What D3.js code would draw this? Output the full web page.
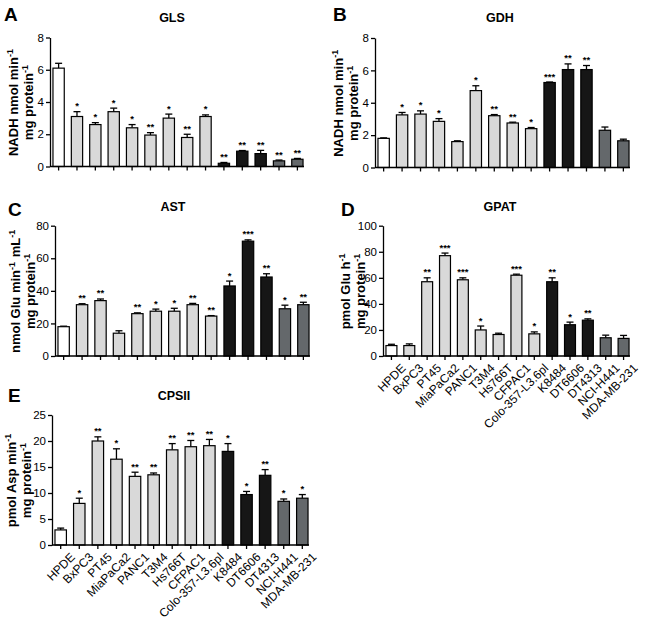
<!DOCTYPE html>
<html><head><meta charset="utf-8">
<script src="https://cdn.jsdelivr.net/npm/d3@7"></script>
<style>
body{margin:0;background:#fff;}
svg{display:block;font-family:"Liberation Sans",Arial,sans-serif;}
</style></head>
<body><svg id="chart" width="650" height="619"></svg>
<script>
const categories = ["HPDE","BxPC3","PT45","MiaPaCa2","PANC1","T3M4","Hs766T","CFPAC1","Colo-357-L3.6pl","K8484","DT6606","DT4313","NCI-H441","MDA-MB-231"];
const groups = ["normal","pdac","pdac","pdac","pdac","pdac","pdac","pdac","pdac","mouse","mouse","mouse","lung","lung"];

const glsValues = [6.1,3.1,2.6,3.4,2.4,1.95,3.0,1.8,3.1,0.2,0.95,0.8,0.35,0.45];
const glsErr    = [0.3,0.3,0.12,0.22,0.2,0.15,0.25,0.2,0.1,0.05,0.04,0.2,0.05,0.05];
const glsSig    = ["","*","*","*","*","**","*","**","*","**","**","**","**","**"];

const gdhValues = [1.8,3.25,3.3,2.85,1.6,4.75,3.2,2.75,2.4,5.25,6.05,6.05,2.3,1.65];
const gdhErr    = [0.03,0.15,0.2,0.17,0.05,0.3,0.07,0.05,0.07,0.03,0.35,0.25,0.2,0.1];
const gdhSig    = ["","*","*","*","","*","**","**","*","***","**","**","",""];

const astValues = [18,31.5,34,14,26,27.5,27.5,31.5,24.5,43,70.5,48.5,29,31.5];
const astErr    = [0.3,0.6,1.0,1.5,0.5,1.3,1.8,0.8,0.3,3.0,0.8,2.0,2.2,1.5];
const astSig    = ["","**","**","","**","*","*","**","**","*","***","**","*","**"];

const gpatValues = [8,8,57,77,58.5,20,16.5,62,17,57,24,27.5,14,13.5];
const gpatErr    = [1,1.3,3,2,1.5,3,1,0.8,1.5,3,2,1,2,2.3];
const gpatSig    = ["","","**","***","***","*","","***","*","**","*","**","",""];

const cpsValues = [2.9,8,20,16.5,13.2,13.5,18.3,18.9,19.1,18,9.7,13.4,8.4,9];
const cpsErr    = [0.35,1.0,0.8,2.0,0.8,0.35,1.2,1.2,1.2,1.5,0.6,1.1,0.45,0.7];
const cpsSig    = ["","*","**","*","**","**","**","**","**","*","*","**","*","*"];

const yTicksA = [0,2,4,6,8];
const yTicksC = [0,20,40,60,80];
const yTicksD = [0,20,40,60,80,100];
const yTicksE = [0,5,10,15,20,25];

const fills = {normal:"#ffffff", pdac:"#d9d9d9", mouse:"#161616", lung:"#64686b"};

const svg = d3.select("#chart");

function panel(cfg){
  const g = svg.append("g");
  const x = d3.scaleBand().domain(categories).range(cfg.xr).paddingInner(0.32).paddingOuter(0.02);
  const y = d3.scaleLinear().domain([0, cfg.ymax]).range(cfg.yr);
  const data = categories.map((c,i)=>({c, v:cfg.values[i], e:cfg.err[i], s:cfg.sig[i], grp:groups[i]}));

  g.append("text").attr("x", cfg.letter[0]).attr("y", cfg.letter[1])
    .attr("font-size", 19).attr("font-weight","bold").text(cfg.letterText);
  g.append("text").attr("x", cfg.title[0]).attr("y", cfg.title[1]).attr("text-anchor","middle")
    .attr("font-size", 12.5).attr("font-weight","bold").text(cfg.titleText);

  const bw = x.bandwidth();
  data.forEach(d=>{
    const cx = x(d.c)+bw/2;
    g.append("line").attr("x1",cx).attr("x2",cx).attr("y1",y(d.v)).attr("y2",y(d.v+d.e))
      .attr("stroke","#000").attr("stroke-width",1.3);
    g.append("line").attr("x1",cx-3.5).attr("x2",cx+3.5).attr("y1",y(d.v+d.e)).attr("y2",y(d.v+d.e))
      .attr("stroke","#000").attr("stroke-width",1.3);
  });
  g.selectAll("rect.bar").data(data).enter().append("rect")
    .attr("x", d=>x(d.c)+0.6).attr("width", bw-1.2)
    .attr("y", d=>y(d.v)).attr("height", d=>y(0)-y(d.v))
    .attr("fill", d=>fills[d.grp]).attr("stroke","#000").attr("stroke-width",1.2);
  g.selectAll("text.sig").data(data).enter().append("text")
    .attr("x", d=>x(d.c)+bw/2).attr("y", d=>y(d.v+d.e)-2.5)
    .attr("text-anchor","middle").attr("font-size",9.5).attr("font-weight","bold")
    .text(d=>d.s);

  const ya = g.append("g").attr("transform",`translate(${cfg.xr[0]-2},0)`)
    .call(d3.axisLeft(y).tickValues(cfg.yticks).tickSize(4).tickPadding(2).tickSizeOuter(0));
  ya.selectAll("text").attr("font-size",11.5).attr("font-family","Liberation Sans, Arial, sans-serif").attr("fill","#000");
  ya.selectAll("line,path").attr("stroke","#000").attr("stroke-width",1.3);

  const xa = g.append("g").attr("transform",`translate(0,${cfg.yr[0]})`)
    .call(d3.axisBottom(x).tickSize(4).tickSizeOuter(0).tickFormat(cfg.labels ? (d=>d) : ""));
  xa.select("path").attr("d", `M${cfg.xr[0]-2},0H${cfg.xr[1]}`);
  xa.selectAll("line,path").attr("stroke","#000").attr("stroke-width",1.3);
  if(cfg.labels){
    xa.selectAll("text").attr("font-size",12).attr("font-family","Liberation Sans, Arial, sans-serif")
      .attr("fill","#000").attr("text-anchor","end")
      .attr("transform","translate(4,2) rotate(-45)").attr("dy","0.7em").attr("dx","0");
  } else {
    xa.selectAll("text").remove();
  }

  const cy = (cfg.yr[0]+cfg.yr[1])/2;
  cfg.ylabel.forEach((parts,li)=>{
    const t = g.append("text")
      .attr("transform",`translate(${cfg.ylx[li]},${cy}) rotate(-90)`)
      .attr("text-anchor","middle").attr("font-size",13).attr("font-weight","bold");
    parts.forEach(p=>{
      if(p.sup){
        t.append("tspan").attr("font-size",9).attr("dy",-5).text(p.t);
        t.append("tspan").attr("font-size",13).attr("dy",5).text("\u200A");
      } else {
        t.append("tspan").text(p.t);
      }
    });
  });
}

panel({letterText:"A", letter:[4,21], titleText:"GLS", title:[172,22],
  values:glsValues, err:glsErr, sig:glsSig, ymax:8, yticks:yTicksA,
  xr:[52,304], yr:[166.5,37.5], labels:false,
  ylx:[18,33], ylabel:[[{t:"NADH nmol min"},{t:"-1",sup:true}],[{t:"mg protein"},{t:"-1",sup:true}]]});

panel({letterText:"B", letter:[333,21], titleText:"GDH", title:[500,22],
  values:gdhValues, err:gdhErr, sig:gdhSig, ymax:8, yticks:yTicksA,
  xr:[377,630], yr:[167.5,38], labels:false,
  ylx:[343,358], ylabel:[[{t:"NADH nmol min"},{t:"-1",sup:true}],[{t:"mg protein"},{t:"-1",sup:true}]]});

panel({letterText:"C", letter:[8,216], titleText:"AST", title:[173,211],
  values:astValues, err:astErr, sig:astSig, ymax:80, yticks:yTicksC,
  xr:[57,310], yr:[356,225.7], labels:false,
  ylx:[20,35], ylabel:[[{t:"nmol Glu min"},{t:"-1",sup:true},{t:" mL"},{t:"-1",sup:true}],[{t:"mg protein"},{t:"-1",sup:true}]]});

panel({letterText:"D", letter:[341,216], titleText:"GPAT", title:[500,211],
  values:gpatValues, err:gpatErr, sig:gpatSig, ymax:100, yticks:yTicksD,
  xr:[385,630], yr:[356,225.7], labels:true,
  ylx:[350,365], ylabel:[[{t:"pmol Glu h"},{t:"-1",sup:true}],[{t:"mg protein"},{t:"-1",sup:true}]]});

panel({letterText:"E", letter:[8,402], titleText:"CPSII", title:[174,400],
  values:cpsValues, err:cpsErr, sig:cpsSig, ymax:25, yticks:yTicksE,
  xr:[54,309], yr:[545,415], labels:true,
  ylx:[16,31], ylabel:[[{t:"pmol Asp min"},{t:"-1",sup:true}],[{t:"mg protein"},{t:"-1",sup:true}]]});
</script></body></html>
